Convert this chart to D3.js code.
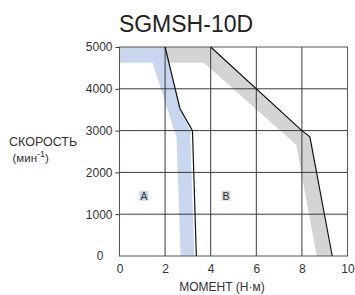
<!DOCTYPE html>
<html>
<head>
<meta charset="utf-8">
<script src="https://cdn.jsdelivr.net/npm/d3@7"></script>
<style>
  body { margin: 0; background: #fff; }
  svg { display: block; font-family: "Liberation Sans", Arial, sans-serif; }
</style>
</head>
<body>
<svg id="chart"></svg>
<script>
const w = 355;
const h = 295;

// tick values
const xTicks = [0, 2, 4, 6, 8, 10];
const yTicks = [0, 1000, 2000, 3000, 4000, 5000];

// zone A (continuous) and zone B (intermittent), [torque, speed]
const zoneA = [[0, 5000], [2.0, 5000], [2.65, 3530], [3.1, 3000], [3.28, 0], [2.68, 0], [2.5, 2840], [1.45, 4625], [0, 4625]];
const zoneB = [[2.0, 5000], [4.0, 5000], [8.0, 3000], [8.35, 2850], [9.3, 0], [8.65, 0], [7.75, 2660], [3.7, 4625], [2.17, 4625]];

// black limit lines
const limitA = [[2.0, 5000], [2.65, 3530], [3.2, 3000], [3.37, 0]];
const limitB = [[4.0, 5000], [8.0, 3000], [8.35, 2850], [9.33, 0]];

// zone labels
const zoneLabels = [
  { text: "A", x: 1.07, y: 1430, fill: "#c8d7ef" },
  { text: "B", x: 4.67, y: 1430, fill: "#d6d6d6" }
];

const svg = d3.select("#chart").attr("width", w).attr("height", h);

const xScale = d3.scaleLinear().domain([0, 10]).range([119.5, 347.5]);
const yScale = d3.scaleLinear().domain([0, 5000]).range([256, 47]);

const line = d3.line().x(d => xScale(d[0])).y(d => yScale(d[1]));

// filled zones
svg.append("path").attr("d", line(zoneB) + "Z").attr("fill", "#d4d4d4");
svg.append("path").attr("d", line(zoneA) + "Z").attr("fill", "#c8d7ef");

// grid
svg.append("g").selectAll("line").data(xTicks.slice(1, -1)).enter().append("line")
  .attr("x1", d => xScale(d)).attr("x2", d => xScale(d))
  .attr("y1", yScale(0)).attr("y2", yScale(5000))
  .attr("stroke", "#3a3a3a").attr("stroke-width", 1);
svg.append("g").selectAll("line").data(yTicks.slice(1, -1)).enter().append("line")
  .attr("x1", xScale(0)).attr("x2", xScale(10))
  .attr("y1", d => yScale(d)).attr("y2", d => yScale(d))
  .attr("stroke", "#3a3a3a").attr("stroke-width", 1);

// frame
svg.append("rect")
  .attr("x", xScale(0)).attr("y", yScale(5000))
  .attr("width", xScale(10) - xScale(0)).attr("height", yScale(0) - yScale(5000))
  .attr("fill", "none").attr("stroke", "#555").attr("stroke-width", 1);

// axes
const axisY = d3.axisLeft(yScale).tickValues(yTicks).tickSize(4).tickPadding(3).tickFormat(d3.format("d"));
const gy = svg.append("g").attr("transform", "translate(" + xScale(0) + ",0)").call(axisY);
gy.select(".domain").remove();
gy.selectAll(".tick line").attr("stroke", "#3a3a3a").filter(d => d === 0).remove();
gy.selectAll(".tick text").attr("font-size", 12).attr("fill", "#333").attr("font-family", null)
  .filter(d => d === 0).attr("x", -16);

const axisX = d3.axisBottom(xScale).tickValues(xTicks).tickSize(0).tickPadding(8).tickFormat(d3.format("d"));
const gx = svg.append("g").attr("transform", "translate(0," + yScale(0) + ")").call(axisX);
gx.select(".domain").remove();
gx.selectAll(".tick text").attr("font-size", 12).attr("fill", "#333").attr("font-family", null);

// limit lines
[limitA, limitB].forEach(l => {
  svg.append("path").attr("d", line(l)).attr("fill", "none")
    .attr("stroke", "#111").attr("stroke-width", 1.2);
});

// zone labels
const lab = svg.append("g").selectAll("g").data(zoneLabels).enter().append("g");
lab.append("rect")
  .attr("x", d => xScale(d.x) - 4.5).attr("y", d => yScale(d.y) - 5.5)
  .attr("width", 9).attr("height", 10).attr("fill", d => d.fill);
lab.append("text")
  .attr("x", d => xScale(d.x)).attr("y", d => yScale(d.y) + 3.5)
  .attr("text-anchor", "middle").attr("font-size", 10.5).attr("fill", "#333")
  .text(d => d.text);

// title
svg.append("text").attr("x", 186).attr("y", 32).attr("text-anchor", "middle")
  .attr("font-size", 23).attr("fill", "#222").text("SGMSH-10D");

// axis titles
svg.append("text").attr("x", 9).attr("y", 146).attr("font-size", 12.5).attr("fill", "#333").text("СКОРОСТЬ");
const sub = svg.append("text").attr("x", 12.5).attr("y", 162).attr("font-size", 11.5).attr("fill", "#333");
sub.append("tspan").text("(мин");
sub.append("tspan").attr("dy", -5).attr("font-size", 9).text("-1");
sub.append("tspan").attr("dy", 5).text(")");

svg.append("text").attr("x", 222).attr("y", 291).attr("text-anchor", "middle")
  .attr("font-size", 12).attr("fill", "#333").text("МОМЕНТ (Н·м)");
</script>
</body>
</html>
